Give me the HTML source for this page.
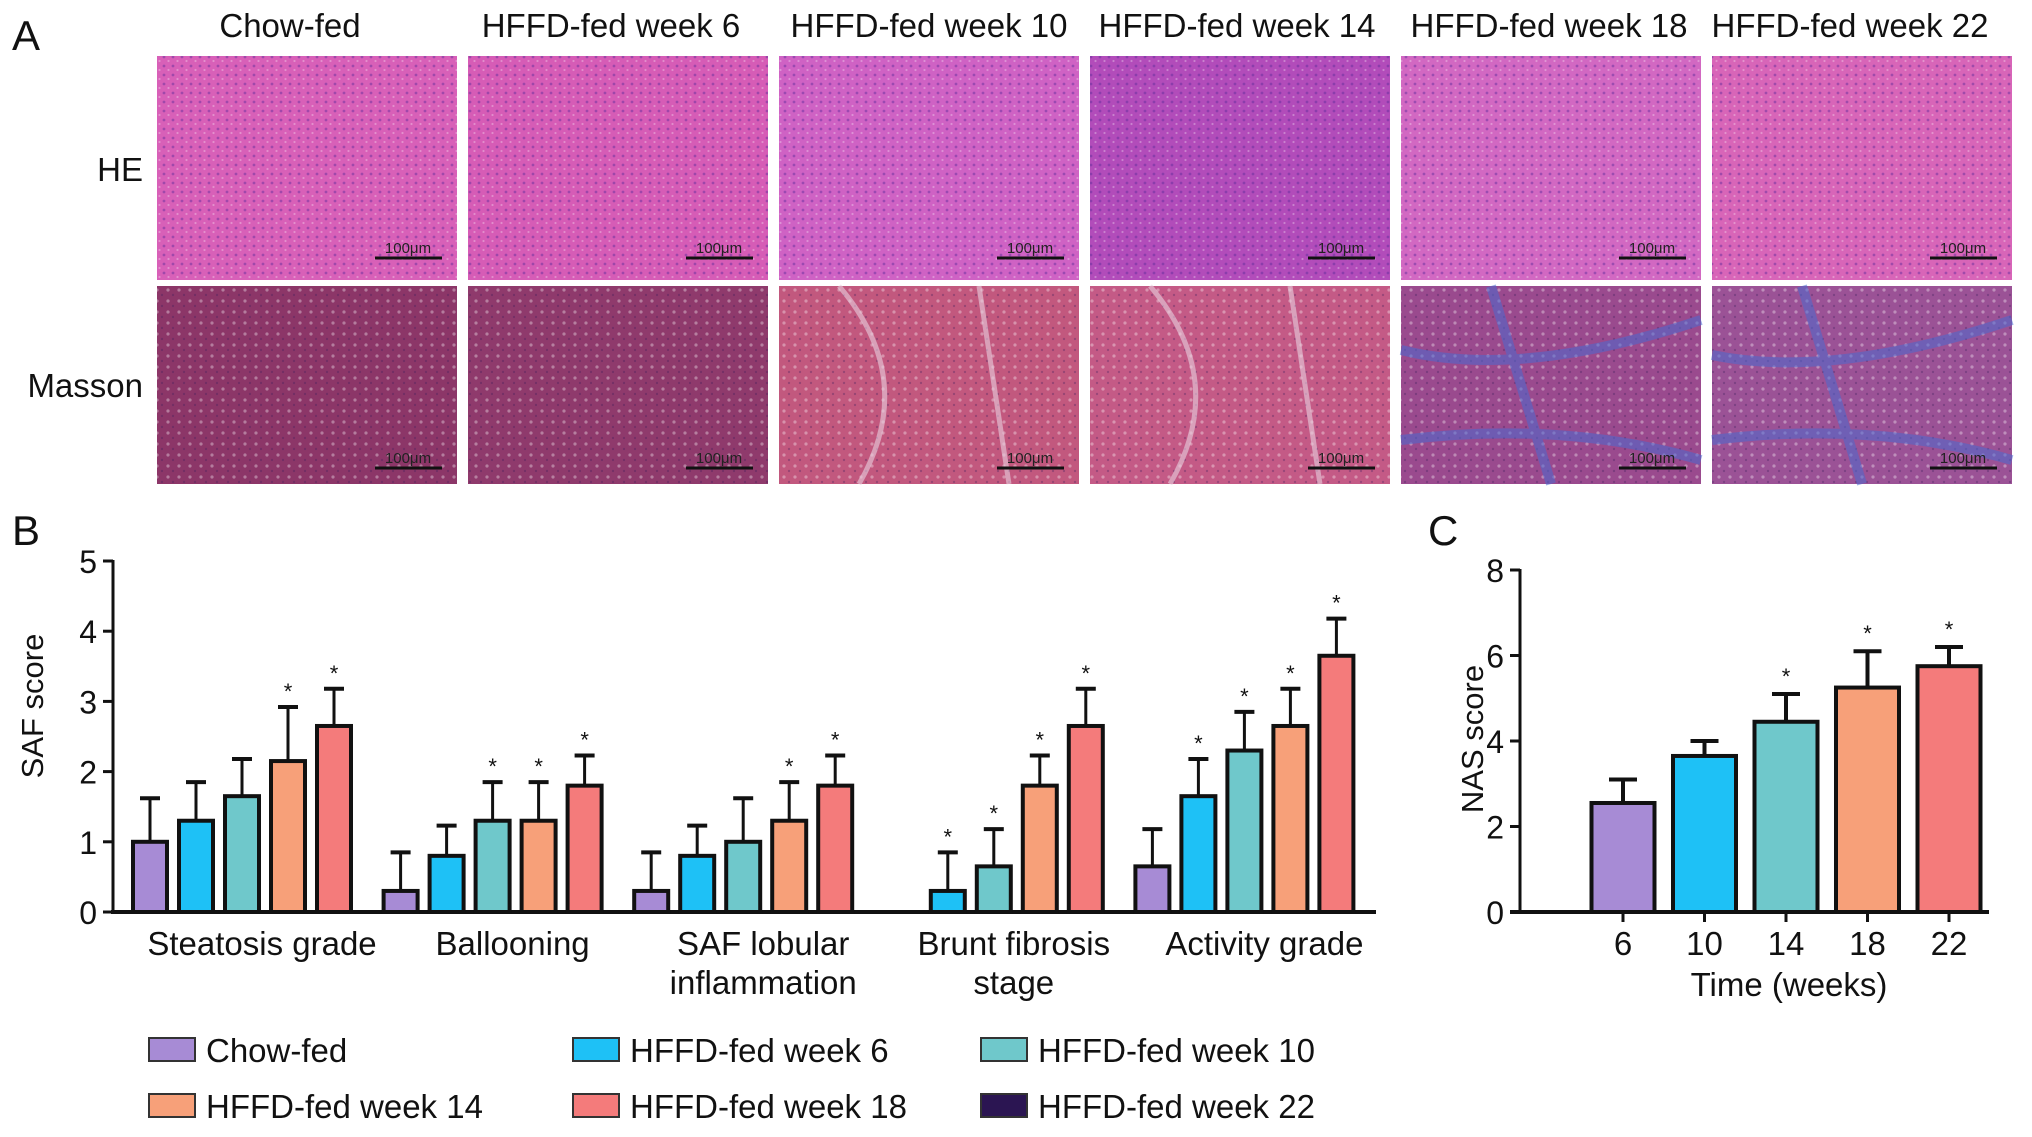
<!DOCTYPE html>
<html><head><meta charset="utf-8"><style>
html,body{margin:0;padding:0;background:#fff;}
svg{display:block;font-family:"Liberation Sans",Arial,sans-serif;}
</style></head><body>
<svg id="fig" width="2032" height="1137" viewBox="0 0 2032 1137" xmlns="http://www.w3.org/2000/svg">
<defs>
<pattern id="dots" width="9" height="9" patternUnits="userSpaceOnUse"><circle cx="2" cy="3" r="1.4" fill="#5a2a9a" opacity="0.45"/><circle cx="6.5" cy="7" r="1.1" fill="#fff" opacity="0.3"/></pattern>
<pattern id="dots2" width="11" height="11" patternUnits="userSpaceOnUse"><circle cx="3" cy="4" r="1.6" fill="#fff" opacity="0.35"/><circle cx="8" cy="9" r="1.2" fill="#3a1a5a" opacity="0.3"/></pattern>
</defs>
<g id="panelA"></g>
<g id="panelB"></g>
<g id="panelC"></g>
</svg>
<script>
// ---- Panel B data ----
const bCategories = [["Steatosis grade"],["Ballooning"],["SAF lobular","inflammation"],["Brunt fibrosis","stage"],["Activity grade"]];
const bSeriesNames = ["Chow-fed","HFFD-fed week 6","HFFD-fed week 10","HFFD-fed week 14","HFFD-fed week 18","HFFD-fed week 22"];
const bChow = [1.0,0.3,0.3,0.0,0.65];
const bWk6 = [1.3,0.8,0.8,0.3,1.65];
const bWk10 = [1.65,1.3,1.0,0.65,2.3];
const bWk14 = [2.15,1.3,1.3,1.8,2.65];
const bWk18 = [2.65,1.8,1.8,2.65,3.65];
const bErrChow = [0.62,0.55,0.55,0,0.53];
const bErrWk6 = [0.55,0.43,0.43,0.55,0.53];
const bErrWk10 = [0.53,0.55,0.62,0.53,0.55];
const bErrWk14 = [0.77,0.55,0.55,0.43,0.53];
const bErrWk18 = [0.53,0.43,0.43,0.53,0.53];
const bStarChow = [0,0,0,0,0];
const bStarWk6 = [0,0,0,1,1];
const bStarWk10 = [0,1,0,1,1];
const bStarWk14 = [1,1,1,1,1];
const bStarWk18 = [1,1,1,1,1];
const bTicks = [0,1,2,3,4,5];
// ---- Panel C data ----
const cWeeks = ["6","10","14","18","22"];
const cValues = [2.55,3.65,4.45,5.25,5.75];
const cErr = [0.55,0.35,0.65,0.85,0.45];
const cStars = [0,0,1,1,1];
const cTicks = [0,2,4,6,8];

const colors = ["#a78bd5","#1ec1f6","#6fc8cb","#f7a079","#f47b7b","#2b1552"];
const NS="http://www.w3.org/2000/svg";
function mk(parent,tag,attrs,text){const e=document.createElementNS(NS,tag);for(const k in attrs)e.setAttribute(k,attrs[k]);if(text!==undefined)e.textContent=text;parent.appendChild(e);return e;}

// ---- Panel A ----
const A=document.getElementById('panelA');
let t;
t=mk(A,'text',{x:12,y:50,'font-size':42,fill:'#111'},'A');


const colTitles=["Chow-fed","HFFD-fed week 6","HFFD-fed week 10","HFFD-fed week 14","HFFD-fed week 18","HFFD-fed week 22"];
const titleShift=[-17,-7,0,-3,-2,-12];
const heFill=["#d860b8","#d65cb6","#cf62c4","#b24cba","#d268c2","#d865b8"];
const maFill=["#8c3668","#8f3a6c","#c2587e","#c45a86","#9a4a8e","#9b5296"];
for(let i=0;i<6;i++){
  const x=157+i*311;
  t=mk(A,'text',{x:x+150+titleShift[i],y:37,'font-size':33,'text-anchor':'middle',fill:'#111'},colTitles[i]);
  
  
  let r=mk(A,'rect',{x:x,y:56,width:300,height:224,fill:heFill[i]});
  
  
  mk(A,'rect',{x:x,y:56,width:300,height:224,fill:'url(#dots)'});
  r=mk(A,'rect',{x:x,y:286,width:300,height:198,fill:maFill[i]});
  
  
  mk(A,'rect',{x:x,y:286,width:300,height:198,fill:'url(#dots2)'});
  if(i>=4){mk(A,'path',{d:`M${x} ${330+i*5} Q${x+120} ${380} ${x+300} ${320} M${x+90} 286 L${x+150} 484 M${x} 440 Q${x+160} 420 ${x+300} 460`,stroke:'#4a6ad0','stroke-width':10,fill:'none',opacity:0.55});}
  if(i==2||i==3){mk(A,'path',{d:`M${x+60} 286 Q${x+140} 380 ${x+80} 484 M${x+200} 286 L${x+230} 484`,stroke:'#e8d0e0','stroke-width':5,fill:'none',opacity:0.6});}
  for(const yy of [258,468]){
    mk(A,'line',{x1:x+218,y1:yy,x2:x+285,y2:yy,stroke:'#111','stroke-width':3});
    t=mk(A,'text',{x:x+251,y:yy-5,'font-size':15,'text-anchor':'middle',fill:'#222'},'100μm');
    
    
  }
}
t=mk(A,'text',{x:143,y:181,'font-size':33,'text-anchor':'end',fill:'#111'},'HE');


t=mk(A,'text',{x:143,y:397,'font-size':33,'text-anchor':'end',fill:'#111'},'Masson');



// ---- Panel B ----
const B=document.getElementById('panelB');
const bx0=113, bY0=912, bUnit=70.2, bGroup0=150, bGroupStep=250.6, bBarStep=46, bBarW=34;
const byScale=v=>bY0-v*bUnit;
const bxScale=(g,s)=>bGroup0+g*bGroupStep+s*bBarStep;
t=mk(B,'text',{x:12,y:545,'font-size':42,fill:'#111'},'B');


mk(B,'line',{x1:bx0,y1:byScale(5)-1,x2:bx0,y2:bY0,stroke:'#111','stroke-width':3});
mk(B,'line',{x1:bx0-2,y1:bY0,x2:1376,y2:bY0,stroke:'#111','stroke-width':4});
bTicks.forEach(v=>{
  mk(B,'line',{x1:bx0-10,y1:byScale(v),x2:bx0,y2:byScale(v),stroke:'#111','stroke-width':3});
  t=mk(B,'text',{x:bx0-16,y:byScale(v)+12,'font-size':32,'text-anchor':'end',fill:'#111'},String(v));
  
  
});
t=mk(B,'text',{x:0,y:0,'font-size':31,'text-anchor':'middle',fill:'#111',transform:'translate(43,706) rotate(-90)'},'SAF score');


const bSeries=[bChow,bWk6,bWk10,bWk14,bWk18];
const bErrs=[bErrChow,bErrWk6,bErrWk10,bErrWk14,bErrWk18];
const bStars=[bStarChow,bStarWk6,bStarWk10,bStarWk14,bStarWk18];
for(let g=0;g<bCategories.length;g++){
  for(let s=0;s<bSeries.length;s++){
    const v=bSeries[s][g], cx=bxScale(g,s), top=byScale(v);
    if(v>0){
      const e=v+bErrs[s][g], et=byScale(e);
      mk(B,'line',{x1:cx,y1:top,x2:cx,y2:et,stroke:'#111','stroke-width':3});
      mk(B,'line',{x1:cx-10,y1:et,x2:cx+10,y2:et,stroke:'#111','stroke-width':4});
      const r=mk(B,'rect',{x:cx-bBarW/2,y:top,width:bBarW,height:bY0-top,fill:colors[s],stroke:'#111','stroke-width':4});
      
      
      if(bStars[s][g]){
        t=mk(B,'text',{x:cx,y:et-8,'font-size':22,'text-anchor':'middle',fill:'#111'},'*');
        
        
      }
    }
  }
  const lines=bCategories[g], mid=bxScale(g,2)+20;
  lines.forEach((ln,i)=>{
    t=mk(B,'text',{x:mid,y:955+i*39,'font-size':33,'text-anchor':'middle',fill:'#111'},ln);
    
    
  });
}
const legX=[149,573,981], legY=[1050,1106];
bSeriesNames.forEach((n,i)=>{
  const lx=legX[i%3], ly=legY[Math.floor(i/3)];
  const r=mk(B,'rect',{x:lx,y:ly-12,width:46,height:23,fill:colors[i],stroke:'#333','stroke-width':2});
  
  
  t=mk(B,'text',{x:lx+57,y:ly+12,'font-size':33,fill:'#111'},n);
  
  
});

// ---- Panel C ----
const C=document.getElementById('panelC');
const cx0=1520, cY0=912, cUnit=42.75, cBar0=1623, cStep=81.5, cBarW=63;
const cyScale=v=>cY0-v*cUnit;
const cxScale=i=>cBar0+i*cStep;
t=mk(C,'text',{x:1428,y:545,'font-size':42,fill:'#111'},'C');


mk(C,'line',{x1:cx0,y1:cyScale(8)-1,x2:cx0,y2:cY0,stroke:'#111','stroke-width':3});
mk(C,'line',{x1:cx0-10,y1:cY0,x2:1989,y2:cY0,stroke:'#111','stroke-width':4});
cTicks.forEach(v=>{
  mk(C,'line',{x1:cx0-10,y1:cyScale(v),x2:cx0,y2:cyScale(v),stroke:'#111','stroke-width':3});
  t=mk(C,'text',{x:cx0-16,y:cyScale(v)+12,'font-size':32,'text-anchor':'end',fill:'#111'},String(v));
  
  
});
t=mk(C,'text',{x:0,y:0,'font-size':31,'text-anchor':'middle',fill:'#111',transform:'translate(1483,739) rotate(-90)'},'NAS score');


cValues.forEach((v,i)=>{
  const cx=cxScale(i), top=cyScale(v), et=cyScale(v+cErr[i]);
  mk(C,'line',{x1:cx,y1:top,x2:cx,y2:et,stroke:'#111','stroke-width':4});
  mk(C,'line',{x1:cx-14,y1:et,x2:cx+14,y2:et,stroke:'#111','stroke-width':4});
  const r=mk(C,'rect',{x:cx-cBarW/2,y:top,width:cBarW,height:cY0-top,fill:colors[i],stroke:'#111','stroke-width':4});
  
  
  mk(C,'line',{x1:cx,y1:cY0,x2:cx,y2:cY0+10,stroke:'#111','stroke-width':3});
  t=mk(C,'text',{x:cx,y:955,'font-size':33,'text-anchor':'middle',fill:'#111'},cWeeks[i]);
  
  
  if(cStars[i]){
    t=mk(C,'text',{x:cx,y:et-10,'font-size':22,'text-anchor':'middle',fill:'#111'},'*');
    
    
  }
});
t=mk(C,'text',{x:1789,y:996,'font-size':33,'text-anchor':'middle',fill:'#111'},'Time (weeks)');


</script>
</body></html>
